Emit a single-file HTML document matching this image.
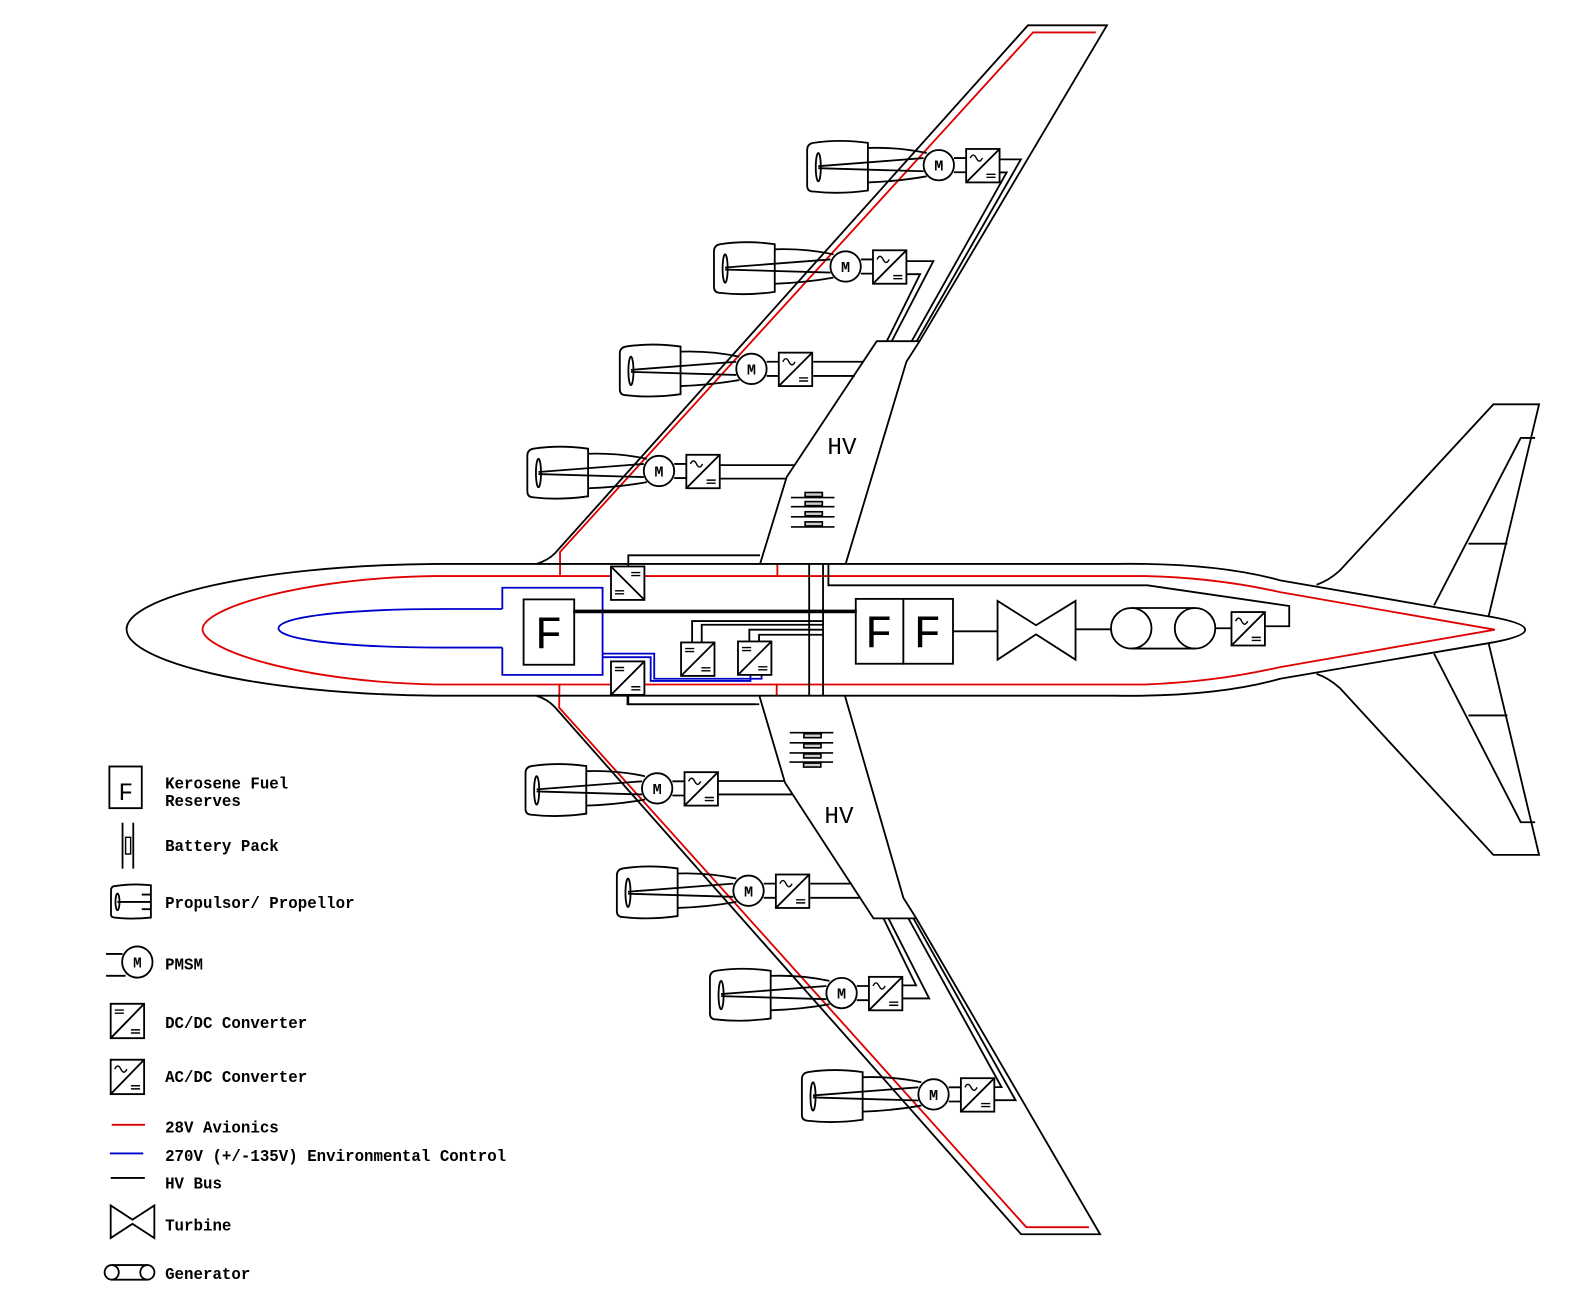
<!DOCTYPE html>
<html><head><meta charset="utf-8"><style>
html,body{margin:0;padding:0;background:#fff;}
svg{display:block;}
text{font-family:"Liberation Mono",monospace;}
</style></head><body>
<svg width="1590" height="1291" viewBox="0 0 1570 1274" preserveAspectRatio="none" xmlns="http://www.w3.org/2000/svg">
<defs>
<g id="acdc" fill="none" stroke="#000" stroke-width="1.8">
<rect x="0" y="0" width="33" height="33" fill="#fff"/>
<path d="M0,33 L33,0"/>
<path d="M4,9 q3,-6 6,0 t6,0" stroke-width="1.4"/>
<path d="M20,25h9 M20,28h9" stroke-width="1.4"/>
</g>
<g id="dcA" fill="none" stroke="#000" stroke-width="1.8">
<rect x="0" y="0" width="33" height="33" fill="#fff"/>
<path d="M0,33 L33,0"/>
<path d="M4,6h9 M4,9h9 M20,25h9 M20,28h9" stroke-width="1.4"/>
</g>
<g id="dcB" fill="none" stroke="#000" stroke-width="1.8">
<rect x="0" y="0" width="33" height="33" fill="#fff"/>
<path d="M0,0 L33,33"/>
<path d="M20,6h9 M20,9h9 M4,24h9 M4,27h9" stroke-width="1.4"/>
</g>
<g id="eng" fill="none" stroke="#000" stroke-width="1.8">
<path d="M-70,-22 Q-98,-26 -124,-22 Q-130,-21 -130,-15 L-130,20 Q-130,26 -124,26 Q-98,29 -70,25 Z" fill="#fff"/>
<path d="M-70,-17 Q-40,-18 -12,-12 M-70,17 Q-40,16 -12,11"/>
<ellipse cx="-119" cy="2" rx="2.5" ry="14"/>
<path d="M-119,1 L-15,-7 M-119,3 L-15,6"/>
<circle cx="0" cy="0" r="15" fill="#fff"/>
<path d="M15,-7 H27 M15,7 H27"/>
<use href="#acdc" x="27" y="-16"/>
</g>
<g id="batt" stroke="#000" stroke-width="1.6">
<path d="M781,491H824 M781,500H824 M781,510H824 M781,520H824" fill="none"/>
<rect x="795" y="486" width="17" height="4" fill="#ccc"/>
<rect x="795" y="495" width="17" height="4" fill="#ccc"/>
<rect x="795" y="505" width="17" height="4" fill="#ccc"/>
<rect x="795" y="515" width="17" height="4" fill="#ccc"/>
</g>
<g id="wing">
<path d="M530,556.5 Q541,553 548,546 L1015,25 L1093,25 L908,336.7 L895,357 L835,556.5" fill="none" stroke="#000" stroke-width="1.8"/>
<path d="M908,336.7 L865.7,336.7 L776.8,470.7 L750.5,556.5" fill="none" stroke="#000" stroke-width="1.8"/>
<path d="M553,568.5 L553,544.7 L1020,32 L1082,32" fill="none" stroke="#e00000" stroke-width="1.8"/>
<path d="M767.6,556.5 L767.6,568.5" fill="none" stroke="#e00000" stroke-width="1.8"/>
<g fill="none" stroke="#000" stroke-width="1.8">
<path d="M987,157.3 H1008 L905.2,336.7 M987,170.2 H994 L900.2,336.7"/>
<path d="M895.3,257.7 H921.6 L880.5,336.7 M895.3,270.6 H908.5 L875.6,336.7"/>
<path d="M803,357 H853 M803,371 H844"/>
<path d="M711,459 H785 M711,472.3 H776.8"/>
<path d="M620.4,559 V548 H750.5"/>
</g>
<use href="#batt"/>
</g>
</defs>

<use href="#wing"/>
<use href="#wing" transform="matrix(1 0 0.0113 -1 -7.02 1243)"/>

<g fill="none" stroke="#000" stroke-width="1.8">
<path d="M1300,577 Q1312,573 1323,563 L1474.6,399 L1519.7,399 L1469.7,609"/>
<path d="M1416,597.4 L1501.6,432.2 L1515.8,432.2 M1450,536.5 L1488.4,536.5"/>
<path d="M1300,665 Q1312,669 1323,679 L1474.6,843.6 L1519.7,843.6 L1469.7,634"/>
<path d="M1416,645 L1501.6,811.4 L1515.8,811.4 M1450,706 L1488.4,706"/>
<path d="M1100,556.5 L430,556.5 C250,558 125,590 125,621 C125,652 250,685 430,686.5 L1100,686.5 Q1200,688 1264,669.8 L1474,634 Q1506,628 1506,621.4 Q1506,615 1474,609 L1264,572.7 Q1200,555 1100,556.5 Z" fill="none"/>
</g>
<path d="M430,568.5 C300,570 200,600 200,621 C200,642 300,673 430,675.5 L1130,675.5 Q1200,673 1264,658.3 L1476,621.4 L1264,584.3 Q1200,570 1130,568.5 Z" fill="none" stroke="#e00000" stroke-width="1.8"/>

<g fill="none" stroke="#0000cc" stroke-width="1.8">
<path d="M496,601 L440,601 C330,601 275,610 275,620 C275,630 330,639 440,639 L496,639"/>
<path d="M496,601 V580 H595 V666 H496 V639"/>
<path d="M595,645 H646 V669.8 H752 V665.5"/>
<path d="M595,648.5 H642.5 V672 H741 V665.5"/>
</g>

<g fill="none" stroke="#000" stroke-width="1.8">
<path d="M799,556.5 V686.5 M812.7,556.5 V686.5"/>
<path d="M683.4,634 V612.9 H812.7 M692.9,634 V616.5 H812.7 M739.9,633 V621.4 H812.7 M749.5,633 V626.4 H812.7"/>
<path d="M818,556.5 V577.6 H1133 L1273,598 V618 H1249"/>
<path d="M620.4,685 V695 H746"/>
<path d="M941,623 H985 M1062,621 H1097 M1200,620 H1216"/>
<rect x="517" y="591.5" width="50" height="64.5" fill="#fff"/>
<rect x="845" y="591" width="47" height="64" fill="#fff"/>
<rect x="892" y="591" width="49" height="64" fill="#fff"/>
<path d="M985,593 L985,651 L1023,626 L1062,651 L1062,593 L1023,617 Z" fill="#fff"/>
<circle cx="1117" cy="620" r="20" fill="#fff"/>
<circle cx="1180" cy="620" r="20" fill="#fff"/>
<path d="M1117,600 H1180 M1117,640 H1180"/>
</g>
<path d="M566,603.4 H846" stroke="#000" stroke-width="3.5"/>
<g font-size="46" fill="#000">
<text x="528" y="640" font-family="Liberation Sans, sans-serif">F</text>
<text x="854" y="639" font-family="Liberation Sans, sans-serif">F</text>
<text x="902" y="639" font-family="Liberation Sans, sans-serif">F</text>
</g>
<use href="#dcB" x="603.3" y="559"/>
<use href="#dcA" x="603.3" y="652.7"/>
<use href="#dcA" x="672.5" y="634"/>
<use href="#dcA" x="728.7" y="633"/>
<use href="#acdc" x="1216" y="604"/>

<text x="817" y="448" font-family="Liberation Sans, sans-serif" font-size="24">HV</text>
<text x="814" y="812" font-family="Liberation Sans, sans-serif" font-size="24">HV</text>

<use href="#eng" x="927" y="163"/>
<use href="#eng" x="835" y="263"/>
<use href="#eng" x="742" y="364"/>
<use href="#eng" x="650.7" y="464.8"/>
<use href="#eng" x="648.9" y="778"/>
<use href="#eng" x="739.1" y="879"/>
<use href="#eng" x="831" y="980"/>
<use href="#eng" x="921.8" y="1080"/>
<g font-size="15" font-weight="bold" text-anchor="middle">
<text x="927" y="168.5" font-family="Liberation Sans, sans-serif">M</text>
<text x="835" y="268.5" font-family="Liberation Sans, sans-serif">M</text>
<text x="742" y="369.5" font-family="Liberation Sans, sans-serif">M</text>
<text x="650.7" y="470.3" font-family="Liberation Sans, sans-serif">M</text>
<text x="648.9" y="783.5" font-family="Liberation Sans, sans-serif">M</text>
<text x="739.1" y="884.5" font-family="Liberation Sans, sans-serif">M</text>
<text x="831" y="985.5" font-family="Liberation Sans, sans-serif">M</text>
<text x="921.8" y="1085.5" font-family="Liberation Sans, sans-serif">M</text>
</g>

<g transform="matrix(1 0 0 1.028 0 -21.8)">
<g fill="none" stroke="#000" stroke-width="1.8">
<rect x="108" y="757" width="32" height="40"/>
<path d="M121,811 V855 M131.6,811 V855"/>
<rect x="124" y="825" width="5" height="16" stroke-width="1.4"/>
<path d="M149,871 Q130,869 112,872 Q109.6,873 109.6,876 L109.6,899 Q109.6,902 113,902 Q130,904 149,902 Z M149,871 V902 M116,887 H149 M149,880 H140 M149,894 H140"/>
<ellipse cx="116" cy="887" rx="2" ry="8"/>
<circle cx="135.6" cy="944.7" r="15"/>
<path d="M104.7,937 H121 M104.7,958 H124"/>
<path d="M109.3,1152 H143"/>
<path d="M109.3,1178.4 L109.3,1209.7 L130.8,1196 L152.4,1209.7 L152.4,1178.4 L130.8,1192 Z"/>
<circle cx="110.3" cy="1242.6" r="7"/>
<circle cx="145.5" cy="1242.6" r="7"/>
<path d="M110.3,1235.6 H145.5 M110.3,1249.6 H145.5"/>
</g>
<use href="#dcA" x="109.3" y="984.8"/>
<use href="#acdc" x="109.3" y="1038.5"/>
<path d="M110.3,1101 H143.2" stroke="#e00000" stroke-width="1.8"/>
<path d="M108.5,1128.4 H141.5" stroke="#0000cc" stroke-width="1.8"/>
<text x="117" y="789" font-family="Liberation Sans, sans-serif" font-size="24">F</text>
<text x="135.6" y="950" font-family="Liberation Sans, sans-serif" font-size="14" font-weight="bold" text-anchor="middle">M</text>
<g font-size="15.6" fill="#000" font-weight="bold">
<text x="163" y="778">Kerosene Fuel</text>
<text x="163" y="795">Reserves</text>
<text x="163" y="838">Battery Pack</text>
<text x="163" y="893">Propulsor/ Propellor</text>
<text x="163" y="952">PMSM</text>
<text x="163" y="1008">DC/DC Converter</text>
<text x="163" y="1060">AC/DC Converter</text>
<text x="163" y="1108.6">28V Avionics</text>
<text x="163" y="1135.6">270V (+/-135V) Environmental Control</text>
<text x="163" y="1162">HV Bus</text>
<text x="163" y="1202.4">Turbine</text>
<text x="163" y="1249">Generator</text>
</g>
</g>
</svg>
</body></html>
